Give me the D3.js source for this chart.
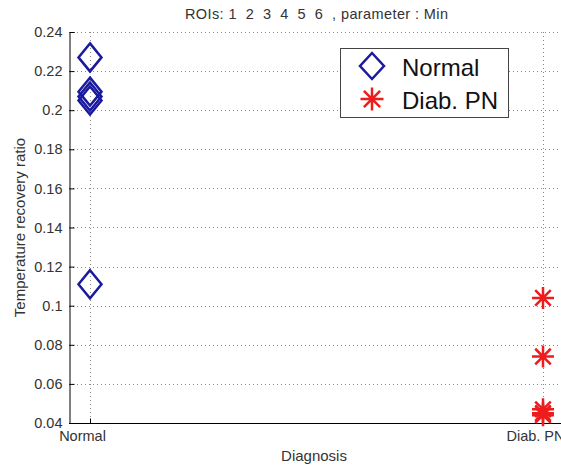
<!DOCTYPE html>
<html><head><meta charset="utf-8">
<script src="https://cdn.jsdelivr.net/npm/d3@7"></script>
<style>body{margin:0;background:#fff;}svg{display:block;font-family:"Liberation Sans",Arial,sans-serif;}</style>
</head><body>
<svg id="c" width="561" height="468"></svg>
<script>
const categories = ["Normal", "Diab. PN"];
const normalValues = [0.227, 0.2095, 0.207, 0.205, 0.111];
const diabValues = [0.104, 0.074, 0.047, 0.045, 0.044];
const yTicks = [0.04, 0.06, 0.08, 0.1, 0.12, 0.14, 0.16, 0.18, 0.2, 0.22, 0.24];
const titleText = "ROIs: 1  2  3  4  5  6  , parameter : Min";

const svg = d3.select("#c");
const L = 69, R = 564, T = 32, B = 423;
const x = d3.scalePoint().domain(categories).range([90, 543]);
const y = d3.scaleLinear().domain([0.04, 0.24]).range([B, T]);
const FONT = "Liberation Sans, Arial, sans-serif";

const grid = svg.append("g").attr("stroke", "#888").attr("stroke-width", 1).attr("stroke-dasharray", "1,3");
grid.selectAll(".gy").data(yTicks).join("line")
  .attr("x1", L).attr("x2", R).attr("y1", d => Math.round(y(d)) + 0.5).attr("y2", d => Math.round(y(d)) + 0.5);
grid.selectAll(".gx").data(categories).join("line")
  .attr("y1", T).attr("y2", B).attr("x1", d => Math.round(x(d)) + 0.5).attr("x2", d => Math.round(x(d)) + 0.5);

// axes
const yAxis = d3.axisLeft(y).tickValues(yTicks).tickSize(-5).tickPadding(7)
  .tickFormat(d => d3.format("")(+d.toFixed(2)));
const gy = svg.append("g").attr("transform", `translate(${L + 0.5},0)`).call(yAxis);
gy.select(".domain").attr("stroke", "#000");
gy.selectAll(".tick line").attr("stroke", "#000");
gy.selectAll("text").attr("font-size", 14.5).attr("fill", "#333").attr("font-family", FONT);

const xAxis = d3.axisBottom(x).tickSize(-5).tickPadding(7);
const gx = svg.append("g").attr("transform", `translate(0,${B + 0.5})`).call(xAxis);
gx.select(".domain").attr("d", `M${L},0H${R}`).attr("stroke", "#000");
gx.selectAll(".tick line").attr("stroke", "#000");
gx.selectAll("text").attr("font-size", 14.5).attr("fill", "#333").attr("font-family", FONT).attr("dx", -8);

// markers
const diamond = (w, h) => `M0,${-h}L${w},0L0,${h}L${-w},0Z`;
const star = r => {
  let p = "";
  for (let i = 0; i < 4; i++) {
    const a = i * Math.PI / 4;
    p += `M${-r * Math.cos(a)},${-r * Math.sin(a)}L${r * Math.cos(a)},${r * Math.sin(a)}`;
  }
  return p;
};
const navy = "#1a1aa0", red = "#ee1c1c";
svg.append("g").selectAll("path").data(normalValues).join("path")
  .attr("transform", d => `translate(${x("Normal")},${y(d)})`)
  .attr("d", diamond(11.5, 14)).attr("fill", "none").attr("stroke", navy).attr("stroke-width", 2.5);
svg.append("g").selectAll("path").data(diabValues).join("path")
  .attr("transform", d => `translate(${x("Diab. PN")},${y(d)})`)
  .attr("d", star(11)).attr("fill", "none").attr("stroke", red).attr("stroke-width", 2.5);

// title and labels
svg.append("text").attr("x", 185).attr("y", 19).attr("text-anchor", "start")
  .attr("textLength", 263).attr("lengthAdjust", "spacing")
  .attr("font-size", 14.5).attr("fill", "#333").style("white-space", "pre").text(titleText);
svg.append("text").attr("x", 314).attr("y", 461).attr("text-anchor", "middle")
  .attr("font-size", 15).attr("fill", "#333").text("Diagnosis");
svg.append("text").attr("transform", `translate(25,${(T + B) / 2}) rotate(-90)`).attr("text-anchor", "middle")
  .attr("font-size", 15).attr("fill", "#333").text("Temperature recovery ratio");

// legend
const lg = svg.append("g");
lg.append("rect").attr("x", 340.5).attr("y", 48.5).attr("width", 168).attr("height", 69)
  .attr("fill", "#fff").attr("stroke", "#444").attr("stroke-width", 1);
const entries = [{label: "Normal", type: "d"}, {label: "Diab. PN", type: "s"}];
entries.forEach((e, i) => {
  const cy = 66 + i * 33;
  lg.append("path").attr("transform", `translate(372,${cy})`)
    .attr("d", e.type === "d" ? diamond(12, 13) : star(11.5))
    .attr("fill", "none").attr("stroke", e.type === "d" ? navy : red).attr("stroke-width", 2.5);
  lg.append("text").attr("x", 402).attr("y", cy + 10).attr("font-size", 24).attr("fill", "#111").text(e.label);
});
</script>
</body></html>
